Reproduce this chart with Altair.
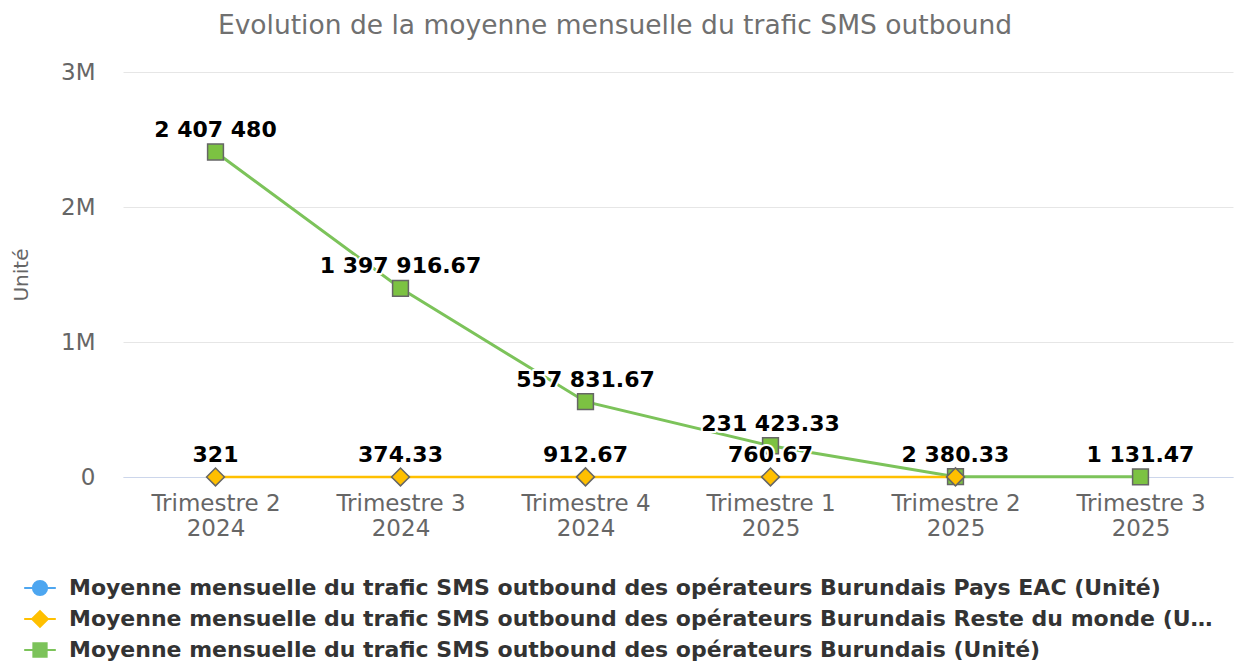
import altair as alt
import pandas as pd

quarters = ["Trimestre 2|2024", "Trimestre 3|2024", "Trimestre 4|2024",
            "Trimestre 1|2025", "Trimestre 2|2025", "Trimestre 3|2025"]

s_eac = "Moyenne mensuelle du trafic SMS outbound des opérateurs Burundais Pays EAC (Unité)"
s_rdm = "Moyenne mensuelle du trafic SMS outbound des opérateurs Burundais Reste du monde (Unité)"
s_tot = "Moyenne mensuelle du trafic SMS outbound des opérateurs Burundais (Unité)"
series = [s_eac, s_rdm, s_tot]
colors = ["#4da6f0", "#ffc000", "#7cc35a"]

eac_values = [None, None, None, None, None, None]
rdm_values = [321, 374.33, 912.67, 760.67, 900, None]
rdm_show_label = [True, True, True, True, False, False]
tot_values = [2407480, 1397916.67, 557831.67, 231423.33, 2380.33, 1131.47]
tot_show_label = [True, True, True, True, True, True]


def fr(v):
    s = f"{v:,.2f}"
    if s.endswith(".00"):
        s = s[:-3]
    return s.replace(",", " ")


rows = []
for name, vals, shows in [(s_eac, eac_values, [False] * 6),
                          (s_rdm, rdm_values, rdm_show_label),
                          (s_tot, tot_values, tot_show_label)]:
    for q, v, sh in zip(quarters, vals, shows):
        rows.append({"quarter": q, "series": name, "value": v,
                     "label": fr(v) if (v is not None and sh) else ""})
df = pd.DataFrame(rows)

x_axis = alt.Axis(title=None, labelAngle=0, labelAlign="center", labelBaseline="top",
                  labelExpr="split(datum.label, '|')",
                  labelFontSize=23, labelColor="#666666", labelLineHeight=25,
                  labelPadding=15, ticks=False, domainColor="#ccd6eb",
                  domainWidth=1, grid=False)
x_enc = alt.X("quarter:N", sort=quarters,
              scale=alt.Scale(type="point", padding=0.5), axis=x_axis)
y_enc = alt.Y("value:Q", scale=alt.Scale(domain=[0, 3000000], nice=False),
              axis=alt.Axis(values=[0, 1000000, 2000000, 3000000], format="~s",
                            labelExpr="datum.value == 0 ? '0' : datum.label",
                            labelFontSize=23, labelColor="#666666", labelPadding=28,
                            grid=True, gridColor="#e6e6e6", domain=False, ticks=False,
                            title="Unité", titleFontSize=20, titleColor="#666666",
                            titleFontWeight="normal", titlePadding=29))

base = alt.Chart(df).encode(x=x_enc, y=y_enc).transform_filter("isValid(datum.value)")

tot_line = base.transform_filter(alt.datum.series == s_tot).mark_line(color="#7cc35a", strokeWidth=3)
rdm_line = base.transform_filter(alt.datum.series == s_rdm).mark_line(color="#ffc000", strokeWidth=2.5)
tot_pts = base.transform_filter(alt.datum.series == s_tot).mark_point(
    shape="square", filled=True, fill="#7cc242", stroke="#666666", strokeWidth=1.5,
    size=250, opacity=1)
rdm_pts = base.transform_filter(alt.datum.series == s_rdm).mark_point(
    shape="diamond", filled=True, fill="#ffbf00", stroke="#666666", strokeWidth=1.5,
    size=320, opacity=1)

lbl = base.transform_filter("datum.label != ''")
halo = lbl.mark_text(fontSize=22, fontWeight="bold", dy=-22, color="white",
                     stroke="white", strokeWidth=4, strokeJoin="round").encode(text="label:N")
text = lbl.mark_text(fontSize=22, fontWeight="bold", dy=-22, color="#000000").encode(text="label:N")

paths = [
    "M-1,0H-0.45M0.45,0H1M-0.45,0A0.45,0.45 0 1,0 0.45,0A0.45,0.45 0 1,0 -0.45,0Z",
    "M-1,0H-0.5M0.5,0H1M-0.5,0L0,-0.5L0.5,0L0,0.5Z",
    "M-1,0H-0.42M0.42,0H1M-0.42,-0.42H0.42V0.42H-0.42Z",
]
legend_props = dict(title=None, orient="none", legendX=-100, legendY=499,
                    direction="vertical", labelFontSize=22,
                    labelFontWeight="bold", labelColor="#333333",
                    labelLimit=1150, symbolSize=1000, symbolStrokeWidth=2,
                    symbolOpacity=1, rowPadding=2, labelOffset=12)
legend_layer = alt.Chart(df).mark_point(filled=True, opacity=0).encode(
    x=alt.X("quarter:N", sort=quarters, axis=x_axis),
    y=alt.Y("value:Q"),
    color=alt.Color("series:N", scale=alt.Scale(domain=series, range=colors),
                    legend=alt.Legend(**legend_props)),
    stroke=alt.Stroke("series:N", scale=alt.Scale(domain=series, range=colors),
                      legend=alt.Legend(**legend_props)),
    shape=alt.Shape("series:N", scale=alt.Scale(domain=series, range=paths),
                    legend=alt.Legend(**legend_props)),
)

chart = alt.layer(legend_layer, tot_line, rdm_line, tot_pts, rdm_pts, halo, text).properties(
    width=1110, height=405,
    padding={"left": 115, "top": 64, "right": 10, "bottom": 184},
    autosize=alt.AutoSizeParams(type="none"),
    title=alt.Title("Evolution de la moyenne mensuelle du trafic SMS outbound",
                    fontSize=26.5, color="#707070", fontWeight="normal", anchor="middle",
                    dx=-63, offset=22),
).configure(font="DejaVu Sans").configure_view(stroke=None)

chart.save("out.html", embed_options={"renderer": "svg", "actions": False})
